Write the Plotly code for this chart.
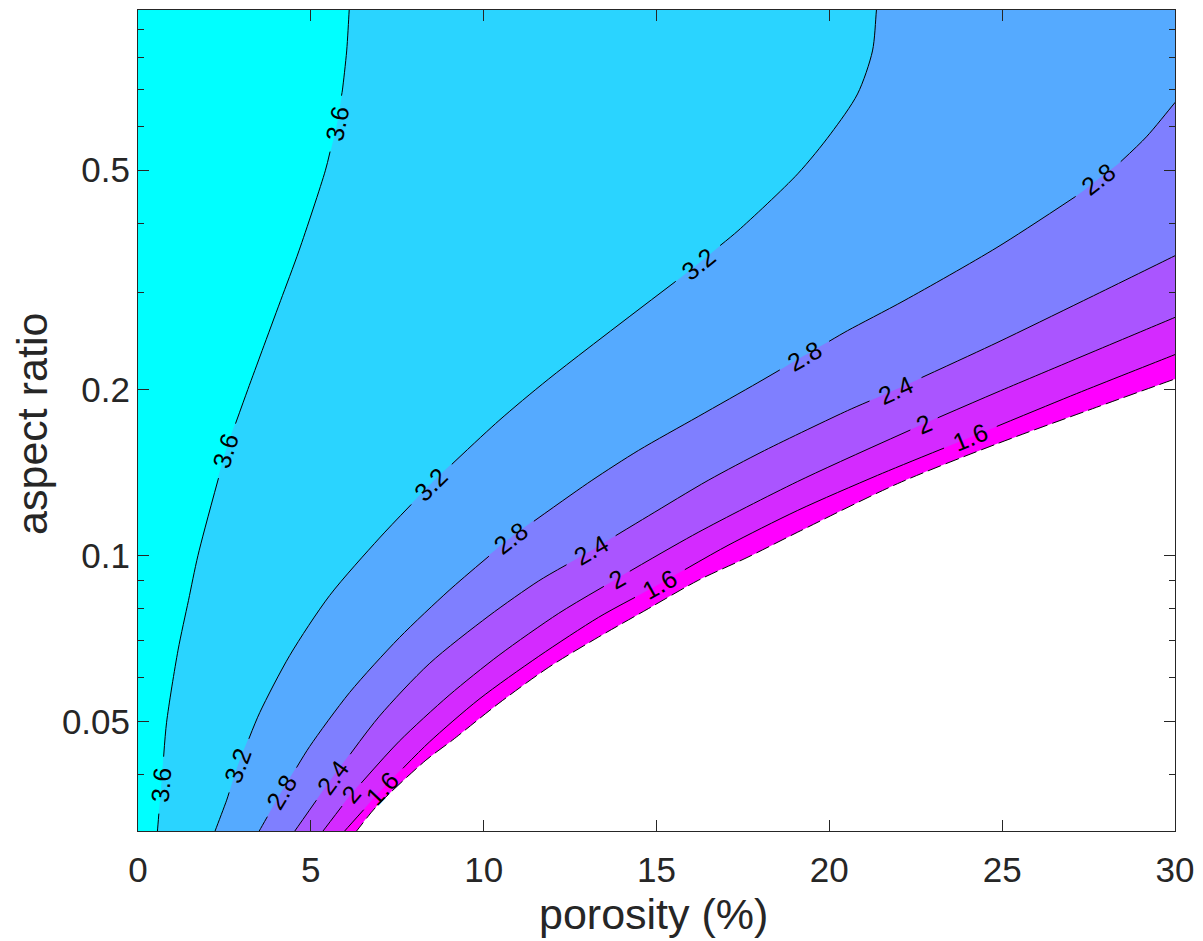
import math
import plotly.graph_objects as go

# ---------------- data ----------------
levels = [3.6, 3.2, 2.8, 2.4, 2.0, 1.6]
level_text = ["3.6", "3.2", "2.8", "2.4", "2", "1.6"]
band_colors = ["#00FFFF", "#2AD4FF", "#55AAFF", "#7F7FFF", "#AA55FF", "#D42AFF", "#FF00FF"]

# contour lines: porosity (%) and aspect ratio, ordered from the bottom edge upward
phi_36 = [0.562, 0.671, 0.827, 1.158, 1.461, 1.735, 2.542, 3.176, 3.591, 4.124, 4.657, 5.418, 5.758, 5.914, 6.037, 6.110]
ar_36 = [0.0316, 0.0383, 0.0498, 0.0673, 0.0829, 0.1, 0.155, 0.1999, 0.2353, 0.2898, 0.357, 0.4986, 0.6066, 0.699, 0.8226, 0.976]
lab_36 = [1, 6, 12]

phi_32 = [2.228, 2.565, 2.890, 3.524, 4.389, 5.542, 6.983, 8.473, 10.441, 11.882, 15.579, 16.205, 17.357, 19.086, 20.037, 20.816, 21.248, 21.363]
ar_32 = [0.0316, 0.03597, 0.04163, 0.05189, 0.06583, 0.08455, 0.1075, 0.1349, 0.1756, 0.209, 0.315, 0.3382, 0.3881, 0.4924, 0.5818, 0.6874, 0.8226, 0.976]
lab_32 = [2, 7, 11]

phi_28 = [3.504, 4.150, 4.965, 6.118, 7.559, 9.0, 10.778, 13.130, 14.476, 16.205, 17.934, 19.280, 20.527, 22.161, 24.850, 27.156, 27.781, 28.395, 29.173, 30.0]
ar_28 = [0.0316, 0.03724, 0.045, 0.05636, 0.0709, 0.08641, 0.1077, 0.1368, 0.155, 0.1786, 0.2058, 0.2304, 0.2557, 0.2898, 0.362, 0.4492, 0.4816, 0.5155, 0.5746, 0.6631]
lab_28 = [1, 6, 11, 16]

phi_24 = [4.533, 5.637, 6.983, 8.424, 10.153, 11.594, 13.112, 14.764, 16.493, 18.127, 20.527, 21.919, 24.850, 27.349, 30.0]
ar_24 = [0.0316, 0.03965, 0.05108, 0.06359, 0.07769, 0.08991, 0.1021, 0.1179, 0.1368, 0.155, 0.1831, 0.1999, 0.2432, 0.2898, 0.3497]
lab_24 = [1, 6, 11]

phi_20 = [5.349, 6.167, 7.559, 9.0, 10.441, 12.170, 13.850, 16.205, 19.086, 22.738, 24.850, 30.0]
ar_20 = [0.0316, 0.03689, 0.04602, 0.05575, 0.06589, 0.0785, 0.09073, 0.1101, 0.1362, 0.1733, 0.1977, 0.2703]
lab_20 = [1, 6, 9]

phi_16 = [5.974, 7.078, 8.424, 9.865, 11.594, 13.323, 15.101, 17.069, 19.086, 21.392, 24.081, 27.156, 30.0]
ar_16 = [0.0316, 0.03777, 0.04583, 0.05483, 0.06561, 0.0772, 0.08887, 0.1043, 0.1207, 0.1397, 0.1638, 0.1966, 0.2314]
lab_16 = [1, 6, 10]

# edge of the defined region (white, undefined area below/right of it)
phi_edge = [6.320, 6.888, 8.329, 9.095, 10.441, 11.882, 13.323, 14.764, 16.205, 17.646, 19.086, 21.968, 24.850, 27.732, 30.0]
ar_edge = [0.0316, 0.03498, 0.04251, 0.04621, 0.05393, 0.06267, 0.07111, 0.08006, 0.0901, 0.09929, 0.1102, 0.1349, 0.1594, 0.1857, 0.209]

x_ticks = [0, 5, 10, 15, 20, 25, 30]
y_ticks = [0.05, 0.1, 0.2, 0.5]
y_tick_text = ["0.05", "0.1", "0.2", "0.5"]
y_minor = [0.04, 0.06, 0.07, 0.08, 0.09, 0.3, 0.4, 0.6, 0.7, 0.8, 0.9]

lines = [
    (phi_36, ar_36, lab_36),
    (phi_32, ar_32, lab_32),
    (phi_28, ar_28, lab_28),
    (phi_24, ar_24, lab_24),
    (phi_20, ar_20, lab_20),
    (phi_16, ar_16, lab_16),
]

# ---------------- geometry / style ----------------
FIG_W, FIG_H = 1203, 941
M_L, M_R, M_T, M_B = 138, 24, 9, 110
PW = FIG_W - M_L - M_R
PH = FIG_H - M_T - M_B
X_RANGE = (0.0, 30.0)
Y_RANGE = (-1.5, -0.0105)  # log10 of aspect ratio
FONT = "Liberation Sans, Arial, Helvetica, sans-serif"
AX_COLOR = "#262626"
LABEL_FS = 25
TICK_FS = 35
TITLE_FS = 43
SMOOTH = 0.8


def to_px(x, a):
    px = M_L + (x - X_RANGE[0]) / (X_RANGE[1] - X_RANGE[0]) * PW
    py = M_T + (Y_RANGE[1] - math.log10(a)) / (Y_RANGE[1] - Y_RANGE[0]) * PH
    return px, py


def from_px(px, py):
    x = X_RANGE[0] + (px - M_L) / PW * (X_RANGE[1] - X_RANGE[0])
    la = Y_RANGE[1] - (py - M_T) / PH * (Y_RANGE[1] - Y_RANGE[0])
    return x, 10 ** la


def gap_len(text):
    w = sum(0.556 if c.isdigit() else 0.278 for c in text) * LABEL_FS
    return 1.3 * w + 12


def extended_px(xs, ys):
    """pixel points of a line plus two straight run-out points beyond each end
    (outside the axes, only so the smoothed curve meets the frame squarely)."""
    pts = [to_px(x, y) for x, y in zip(xs, ys)]
    def ext(p, q, d):
        L = math.dist(p, q)
        return (p[0] + (p[0] - q[0]) / L * d, p[1] + (p[1] - q[1]) / L * d)
    head = [ext(pts[0], pts[1], 60), ext(pts[0], pts[1], 30)]
    tail = [ext(pts[-1], pts[-2], 30), ext(pts[-1], pts[-2], 60)]
    return head + pts + tail


def split_with_gaps(xs, ys, label_idx, text):
    pts = extended_px(xs, ys)
    label_idx = [i + 2 for i in label_idx]
    s = [0.0]
    for i in range(1, len(pts)):
        s.append(s[-1] + math.dist(pts[i - 1], pts[i]))

    def at(sv):
        sv = min(max(sv, 0.0), s[-1])
        for i in range(1, len(s)):
            if sv <= s[i]:
                t = (sv - s[i - 1]) / (s[i] - s[i - 1]) if s[i] > s[i - 1] else 0.0
                return (pts[i - 1][0] + t * (pts[i][0] - pts[i - 1][0]),
                        pts[i - 1][1] + t * (pts[i][1] - pts[i - 1][1]))
        return pts[-1]

    g = gap_len(text)
    gaps, labels = [], []
    for idx in label_idx:
        a, b = s[idx] - g / 2, s[idx] + g / 2
        gaps.append((a, b))
        p1, p2 = at(a), at(b)
        ang = math.degrees(math.atan2(p2[1] - p1[1], p2[0] - p1[0]))
        labels.append((from_px(*at(s[idx])), ang))
    intervals, cur = [], 0.0
    for a, b in sorted(gaps):
        intervals.append((cur, a))
        cur = b
    intervals.append((cur, s[-1]))
    ox, oy = [], []
    for u, v in intervals:
        if v <= u:
            continue
        seg = [at(u)] + [pts[k] for k in range(len(pts)) if u + 1.0 < s[k] < v - 1.0] + [at(v)]
        for p in seg:
            x, a = from_px(*p)
            ox.append(x)
            oy.append(a)
        ox.append(None)
        oy.append(None)
    return ox, oy, labels


def region_polygon(xs, ys):
    pts = extended_px(xs, ys)
    far_r = M_L + PW + 400
    far_t = M_T - 400
    far_b = M_T + PH + 400
    poly = list(pts)
    if xs[-1] < X_RANGE[1] - 1e-6:  # leaves through the top edge
        poly += [(pts[-1][0], far_t), (far_r, far_t)]
    poly += [(far_r, far_b), (pts[0][0], far_b)]
    data = [from_px(*p) for p in poly]
    return [d[0] for d in data], [d[1] for d in data]


fig = go.Figure()

# filled bands (each polygon covers everything below/right of its contour)
for k, (xs, ys, _) in enumerate(lines):
    px, py = region_polygon(xs, ys)
    fig.add_trace(go.Scatter(x=px, y=py, mode="lines", fill="toself",
                             fillcolor=band_colors[k + 1],
                             line=dict(width=0, shape="spline", smoothing=SMOOTH, simplify=False),
                             hoverinfo="skip", showlegend=False))
px, py = region_polygon(phi_edge, ar_edge)
fig.add_trace(go.Scatter(x=px, y=py, mode="lines", fill="toself", fillcolor="#FFFFFF",
                         line=dict(width=0, shape="spline", smoothing=SMOOTH, simplify=False),
                         hoverinfo="skip", showlegend=False))

# contour lines with label gaps
annotations = []
for (xs, ys, lab), txt in zip(lines, level_text):
    lx, ly, labels = split_with_gaps(xs, ys, lab, txt)
    fig.add_trace(go.Scatter(x=lx, y=ly, mode="lines",
                             line=dict(color="black", width=1, shape="spline",
                                       smoothing=SMOOTH, simplify=False),
                             hoverinfo="skip", showlegend=False))
    for (cx, cy), ang in labels:
        annotations.append(dict(x=cx, y=math.log10(cy), xref="x", yref="y", text=txt,
                                showarrow=False, textangle=ang, xanchor="center", yanchor="middle",
                                font=dict(family=FONT, size=LABEL_FS, color="black")))

edge_pts = [from_px(*p) for p in extended_px(phi_edge, ar_edge)]
fig.add_trace(go.Scatter(x=[p[0] for p in edge_pts], y=[p[1] for p in edge_pts], mode="lines",
                         line=dict(color="black", width=1, dash="14px,5px", shape="spline",
                                   smoothing=SMOOTH, simplify=False),
                         hoverinfo="skip", showlegend=False))

# axis titles
annotations.append(dict(x=(655.5 - M_L) / PW, y=(M_T + PH - 914) / PH, xref="paper", yref="paper",
                        text="porosity (%)", showarrow=False, xanchor="center", yanchor="middle",
                        font=dict(family=FONT, size=TITLE_FS, color=AX_COLOR)))
annotations.append(dict(x=(32 - M_L) / PW, y=(M_T + PH - 423) / PH, xref="paper", yref="paper",
                        text="aspect ratio", showarrow=False, textangle=-90,
                        xanchor="center", yanchor="middle",
                        font=dict(family=FONT, size=TITLE_FS, color=AX_COLOR)))

axis_common = dict(showline=True, linecolor=AX_COLOR, linewidth=1, mirror="ticks",
                   ticks="inside", ticklen=11, tickwidth=1, tickcolor=AX_COLOR,
                   showgrid=False, zeroline=False,
                   tickfont=dict(family=FONT, size=TICK_FS, color=AX_COLOR))

fig.update_layout(
    width=FIG_W, height=FIG_H,
    margin=dict(l=M_L, r=M_R, t=M_T, b=M_B, pad=0),
    paper_bgcolor="white", plot_bgcolor=band_colors[0],
    showlegend=False,
    xaxis=dict(range=list(X_RANGE), tickmode="array", tickvals=x_ticks,
               ticktext=[str(v) for v in x_ticks], ticklabelstandoff=8, **axis_common),
    yaxis=dict(type="log", range=list(Y_RANGE), tickmode="array", tickvals=y_ticks,
               ticktext=y_tick_text,
               minor=dict(tickmode="array", tickvals=y_minor, ticks="inside", ticklen=6,
                          tickwidth=1, tickcolor=AX_COLOR, showgrid=False),
               **axis_common),
    annotations=annotations,
)

fig.write_html("out.html")
